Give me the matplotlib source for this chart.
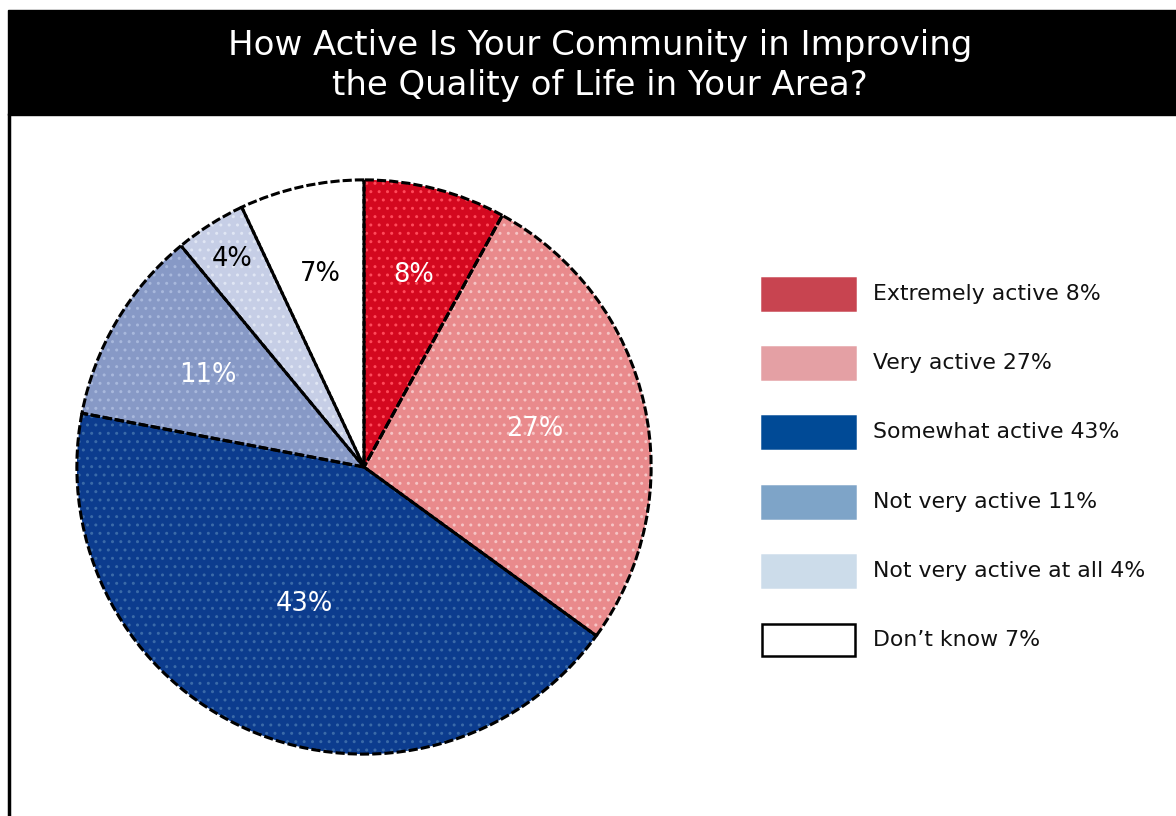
import matplotlib.pyplot as plt
from matplotlib.patches import Rectangle
import numpy as np

plt.rcParams["font.family"] = "DejaVu Sans"

categories = ["Extremely active", "Very active", "Somewhat active",
              "Not very active", "Not very active at all", "Don\u2019t know"]
shares = [8, 27, 43, 11, 4, 7]

pie_colors = ["#d4081f", "#e98a8c", "#0c3c8e", "#8799c6", "#c6cee6", "#ffffff"]
key_colors = ["#c84450", "#e4a0a4", "#004a96", "#7ea4c8", "#ccdcea", "#ffffff"]
text_colors = ["white", "white", "white", "white", "black", "black"]
label_r = [0.69, 0.61, 0.52, 0.63, 0.86, 0.69]

W, H = 1176, 816
fig = plt.figure(figsize=(W / 100, H / 100), dpi=100)

# title band and left rule
fig.patches.append(Rectangle((8 / W, 1 - 115 / H), 1 - 8 / W, 105 / H,
                             transform=fig.transFigure, color="black", zorder=0))
fig.lines.append(plt.Line2D([9 / W, 9 / W], [0, 1 - 115 / H], transform=fig.transFigure,
                            color="black", lw=2.5))
fig.text(600 / W, 1 - 45 / H, "How Active Is Your Community in Improving",
         color="white", fontsize=24.5, ha="center", va="center")
fig.text(600 / W, 1 - 85 / H, "the Quality of Life in Your Area?",
         color="white", fontsize=24.5, ha="center", va="center")

# pie
cx, cy, r = 364, 467, 290
ax = fig.add_axes([(cx - r) / W, (H - cy - r) / H, 2 * r / W, 2 * r / H])
wedges, _ = ax.pie(shares, colors=pie_colors, startangle=90, counterclock=False,
                   wedgeprops=dict(linewidth=0))
# dotted texture over the fills
tex, _ = ax.pie(shares, colors=["none"] * 6, startangle=90, counterclock=False,
                wedgeprops=dict(linewidth=0))
for w, c in zip(tex, ["#ff4a5a", "#f6c4c4", "#3a6aa8", "#a8b8dc", "#e0e6f4", "#ffffff"]):
    w.set_hatch("..")
    w.set_edgecolor(c)
# outline
edge, _ = ax.pie(shares, colors=["none"] * 6, startangle=90, counterclock=False,
                 wedgeprops=dict(linewidth=2.2, edgecolor="black", linestyle=(0, (3, 1))))

for w, v, tc, lr in zip(wedges, shares, text_colors, label_r):
    a = np.deg2rad((w.theta1 + w.theta2) / 2)
    ax.text(lr * np.cos(a), lr * np.sin(a), f"{v}%", color=tc, fontsize=18.5,
            ha="center", va="center")
ax.set_xlim(-1.01, 1.01)
ax.set_ylim(-1.01, 1.01)
ax.axis("off")

# legend boxes
for i, (cat, v, kc) in enumerate(zip(categories, shares, key_colors)):
    yc = 294 + i * 69.2
    ec = "black" if kc == "#ffffff" else kc
    fig.patches.append(Rectangle((762 / W, 1 - (yc + 16) / H), 93 / W, 32 / H,
                                 transform=fig.transFigure, facecolor=kc,
                                 edgecolor=ec, lw=1.8))
    fig.text(873 / W, 1 - yc / H, f"{cat} {v}%", fontsize=15.8, va="center",
             color="#111111")

plt.savefig("out.png", dpi=100)
